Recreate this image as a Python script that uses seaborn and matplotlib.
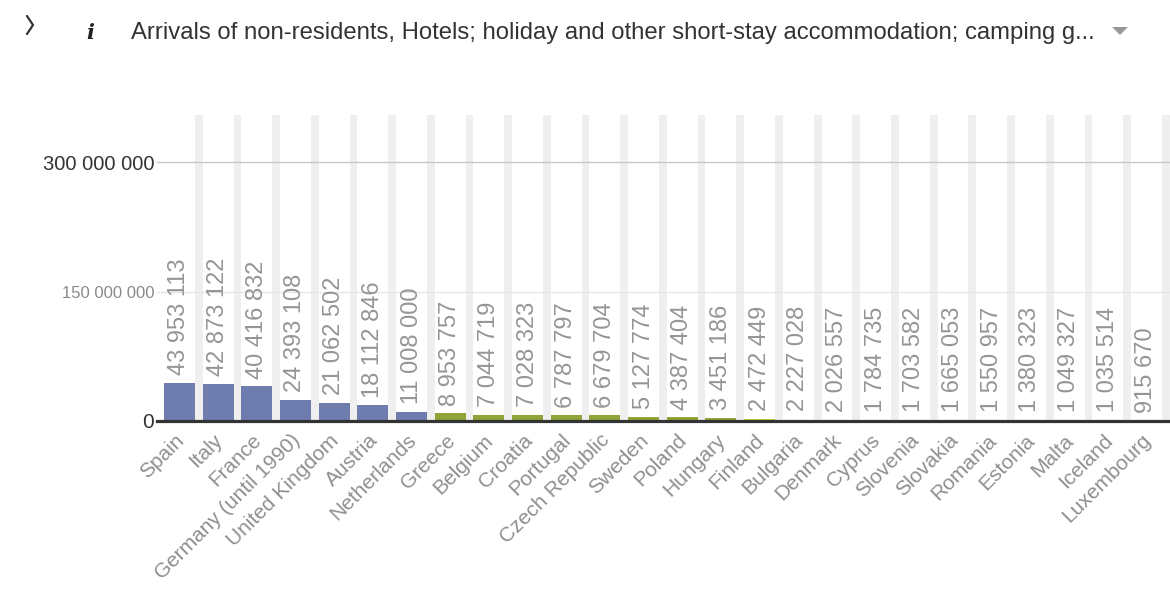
import matplotlib
matplotlib.use("Agg")
import matplotlib.pyplot as plt
import matplotlib.transforms as mtrans
from matplotlib.lines import Line2D
from matplotlib.patches import Polygon
import seaborn as sns
import pandas as pd

countries = ["Spain", "Italy", "France", "Germany (until 1990)", "United Kingdom",
             "Austria", "Netherlands", "Greece", "Belgium", "Croatia", "Portugal",
             "Czech Republic", "Sweden", "Poland", "Hungary", "Finland", "Bulgaria",
             "Denmark", "Cyprus", "Slovenia", "Slovakia", "Romania", "Estonia",
             "Malta", "Iceland", "Luxembourg"]
values = [43953113, 42873122, 40416832, 24393108, 21062502, 18112846, 11008000,
          8953757, 7044719, 7028323, 6787797, 6679704, 5127774, 4387404, 3451186,
          2472449, 2227028, 2026557, 1784735, 1703582, 1665053, 1550957, 1380323,
          1049327, 1035514, 915670]
groups = ["A"] * 7 + ["B"] * 8 + ["C"] + ["D"] * 10
group_colors = {"A": "#6f7dae", "B": "#8ea338", "C": "#bed63c", "D": "#ffffff"}
y_ticks = [0, 150_000_000, 300_000_000]
y_tick_labels = ["0", "150 000 000", "300 000 000"]
title = ("Arrivals of non-residents, Hotels; holiday and other short-stay "
         "accommodation; camping g...")

sns.set_style("white")
plt.rcParams["font.family"] = ["Liberation Sans", "DejaVu Sans"]

df = pd.DataFrame({"country": countries, "value": values, "group": groups})

W, H = 1170, 601
fig = plt.figure(figsize=(W / 100, H / 100), dpi=100)
ax = fig.add_axes([157 / W, 1 - 421 / H, (W - 157) / W, (421 - 115) / H])

sns.barplot(data=df, x="country", y="value", hue="group", palette=group_colors,
            dodge=False, width=0.8, legend=False, ax=ax, saturation=1,
            linewidth=0, zorder=2)

n = len(countries)
for i in range(n):
    ax.axvspan(i + 0.4, i + 0.6, color="#efefef", zorder=0, lw=0)

ax.set_xlim(-0.58, n - 0.39)
ax.set_ylim(0, 355e6)

# gridlines
ax.axhline(y_ticks[1], color="#e6e6e6", lw=1, zorder=1)
ax.axhline(y_ticks[2], color="#c8c8c8", lw=1, zorder=1)

for s in ["top", "right", "left"]:
    ax.spines[s].set_visible(False)
ax.spines["bottom"].set_color("#333333")
ax.spines["bottom"].set_linewidth(2.3)
ax.spines["bottom"].set_zorder(5)

ax.set_yticks(y_ticks)
ax.set_yticklabels(y_tick_labels)
ax.tick_params(axis="y", length=0, pad=2)
ylabels = ax.get_yticklabels()
ylabels[0].set_color("#333333"); ylabels[0].set_fontsize(15)
ylabels[1].set_color("#8a8a8a"); ylabels[1].set_fontsize(12)
ylabels[2].set_color("#333333"); ylabels[2].set_fontsize(14.5)

ax.tick_params(axis="x", length=0, pad=7)
ax.set_xticks(range(n))
ax.set_xticklabels(countries, rotation=45, ha="right", rotation_mode="anchor",
                   color="#8f8f8f", fontsize=15)
offset = mtrans.ScaledTranslation(-5 / 100, 0, fig.dpi_scale_trans)
for lab in ax.get_xticklabels():
    lab.set_transform(lab.get_transform() + offset)

ax.set_xlabel("")
ax.set_ylabel("")

fmt = [f"{v:,}".replace(",", " ") for v in values]
for cont in ax.containers:
    labs = []
    for bar in cont:
        idx = int(round(bar.get_x() + bar.get_width() / 2))
        labs.append(fmt[idx])
    ax.bar_label(cont, labels=labs, rotation=90, padding=5.5, color="#959595",
                 fontsize=17)

# header
fig.add_artist(Line2D([27 / W, 33 / W, 27 / W],
                      [1 - 16 / H, 1 - 25 / H, 1 - 34 / H],
                      transform=fig.transFigure, color="#333333", lw=1.6,
                      solid_joinstyle="miter"))
fig.text(90 / W, 1 - 33 / H, "i", fontsize=15, color="#222222", ha="center",
         va="center", family=["DejaVu Serif"], fontstyle="italic",
         fontweight="bold")
fig.text(131 / W, 1 - 33 / H, title, fontsize=17.2, color="#333333",
         ha="left", va="center")
fig.add_artist(Polygon([[1112 / W, 1 - 27 / H], [1128 / W, 1 - 27 / H],
                        [1120 / W, 1 - 35 / H]], closed=True,
                       transform=fig.transFigure, facecolor="#999999",
                       edgecolor="none"))

fig.savefig("out.png", dpi=100)
